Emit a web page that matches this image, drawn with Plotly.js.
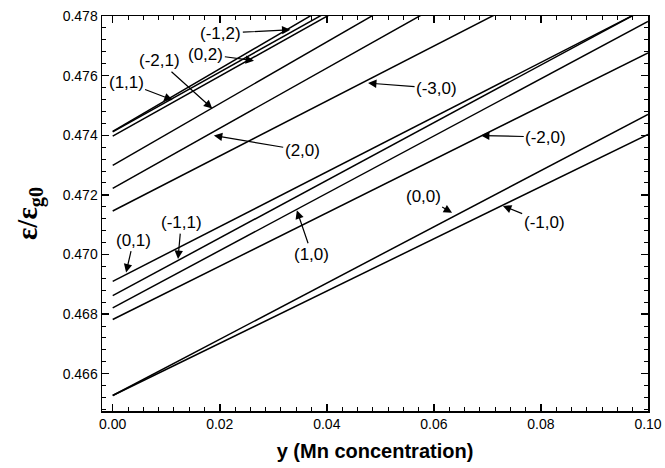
<!DOCTYPE html>
<html><head><meta charset="utf-8">
<script src="https://cdn.plot.ly/plotly-3.0.1.min.js"></script>
<style>html,body{margin:0;padding:0;background:#fff}</style>
</head><body><div id="chart" style="width:665px;height:468px"></div>
<script>
// Series labels (order of lines)
const labels = ["(-1,2)","(1,1)","(0,2)","(-2,1)","(2,0)","(-3,0)","(0,1)","(-1,1)","(1,0)","(-2,0)","(0,0)","(-1,0)"];
// Mn concentration y at which values are given
const xValues = [0.0, 0.1];
// ε/εg0 at y = 0
const yAt0   = [0.47413,0.47411,0.47397,0.47299,0.47222,0.47146,0.46910,0.46862,0.46821,0.46782,0.46527,0.46527];
// ε/εg0 at y = 0.1
const yAt01  = [0.48462,0.48415,0.48402,0.48334,0.48230,0.48068,0.47828,0.47829,0.47782,0.47676,0.47470,0.47403];
// label text positions and arrow targets (data coordinates)
const labelX = [0.0202,0.0025,0.0174,0.0087,0.0354,0.0605,0.0039,0.0128,0.0372,0.0809,0.0580,0.0806];
const labelY = [0.47742,0.47578,0.47672,0.47650,0.47349,0.47557,0.47048,0.47107,0.47001,0.47394,0.47196,0.47107];
const tipX   = [0.0332,0.0112,0.0264,0.0186,0.0189,0.0477,0.0025,0.0122,0.0344,0.0688,0.0634,0.0729];
const tipY   = [0.47754,0.47518,0.47650,0.47490,0.47399,0.47575,0.46940,0.46985,0.47148,0.47399,0.47140,0.47163];

const traces = labels.map((lab,i)=>({
  x: xValues, y: [yAt0[i], yAt01[i]], mode:'lines', name: lab,
  line:{color:'#000', width:1.5}, showlegend:false, hoverinfo:'skip'
}));

const annotations = labels.map((lab,i)=>({
  text: lab, x: tipX[i], y: tipY[i], xref:'x', yref:'y',
  ax: labelX[i], ay: labelY[i], axref:'x', ayref:'y',
  showarrow:true, arrowhead:2, arrowsize:1.4, arrowwidth:1.2, arrowcolor:'#000',
  font:{family:'Liberation Sans, Arial, sans-serif', size:17, color:'#000'}
}));

const tickFont = {family:'Liberation Sans, Arial, sans-serif', size:14, color:'#000'};
const layout = {
  width:665, height:468,
  margin:{l:102, r:17, t:16, b:57},
  paper_bgcolor:'#fff', plot_bgcolor:'#fff',
  showlegend:false,
  xaxis:{
    range:[-0.002,0.1], tickvals:[0,0.02,0.04,0.06,0.08,0.1],
    ticktext:['0.00','0.02','0.04','0.06','0.08','0.10'],
    ticks:'inside', ticklen:7, tickwidth:1.5, tickcolor:'#000',
    minor:{ticks:'inside', ticklen:4, tickwidth:1, tickcolor:'#000', tick0:0, dtick:0.02/7},
    showline:true, linecolor:'#000', linewidth:1.5, mirror:'allticks',
    showgrid:false, zeroline:false, tickfont:tickFont,
    title:{text:'y (Mn concentration)', font:{family:'Liberation Sans, Arial, sans-serif', size:20, color:'#000', weight:'bold'}, standoff:12}
  },
  yaxis:{
    range:[0.46475,0.478], tickvals:[0.466,0.468,0.47,0.472,0.474,0.476,0.478],
    ticktext:['0.466','0.468','0.470','0.472','0.474','0.476','0.478'],
    ticks:'inside', ticklen:7, tickwidth:1.5, tickcolor:'#000',
    minor:{ticks:'inside', ticklen:4, tickwidth:1, tickcolor:'#000', tick0:0.466, dtick:0.0004},
    showline:true, linecolor:'#000', linewidth:1.5, mirror:'allticks',
    showgrid:false, zeroline:false, tickfont:tickFont,
    title:{text:'ε/ε<sub>g0</sub>', font:{family:'Liberation Serif, Times New Roman, serif', size:29, color:'#000', weight:'bold'}, standoff:16}
  },
  annotations: annotations
};
Plotly.newPlot('chart', traces, layout, {staticPlot:true, displayModeBar:false});
</script></body></html>
